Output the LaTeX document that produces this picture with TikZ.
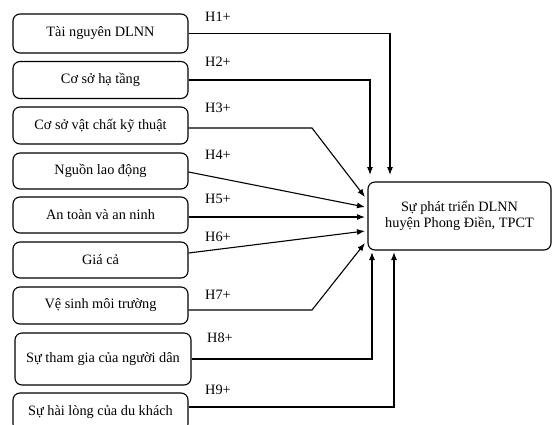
\documentclass[tikz,border=0pt]{standalone}
\usepackage{fontspec}
\setmainfont{Liberation Serif}
\usetikzlibrary{arrows.meta}

\tikzset{
  factor/.style={draw, line width=1.1pt, rounded corners=7pt, minimum width=175pt,
    align=center, font=\fontsize{14.3}{16}\selectfont},
  hyp/.style={font=\fontsize{14.3}{16}\selectfont},
  link/.style={line width=1.1pt, -{Latex[length=8pt,width=6pt]}}
}

\begin{document}
\begin{tikzpicture}[x=1pt,y=-1pt]
  \useasboundingbox (0,0) rectangle (552,424);

  % factors on the left
  \node[factor, minimum height=39pt] (f1) at (100.5,33.5) {Tài nguyên DLNN};
  \node[factor, minimum height=37pt] (f2) at (100.5,80) {Cơ sở hạ tầng};
  \node[factor, minimum height=37pt] (f3) at (100.5,125.5) {Cơ sở vật chất kỹ thuật};
  \node[factor, minimum height=36pt] (f4) at (100.5,171) {Nguồn lao động};
  \node[factor, minimum height=36pt] (f5) at (100.5,215) {An toàn và an ninh};
  \node[factor, minimum height=36pt] (f6) at (100.5,260) {Giá cả};
  \node[factor, minimum height=37pt] (f7) at (100.5,305.5) {Vệ sinh môi trường};
  \node[factor, minimum height=52pt, minimum width=176pt] (f8) at (103,359) {Sự tham gia của người dân};
  \node[factor, minimum height=38pt] (f9) at (100.5,412) {Sự hài lòng của du khách};

  % outcome
  \node[factor, minimum width=183pt, minimum height=68pt] (dev) at (459.5,216)
    {Sự phát triển DLNN\\huyện Phong Điền, TPCT};

  % end points round the outcome box
  \coordinate (t1) at (390,175);
  \coordinate (t2) at (370,175);
  \coordinate (l3) at (365,197);
  \coordinate (l4) at (365,207);
  \coordinate (l5) at (365,217);
  \coordinate (l6) at (365,231);
  \coordinate (l7) at (365,243);
  \coordinate (b8) at (372,252);
  \coordinate (b9) at (394,252);
  \coordinate (k3) at (312,128);
  \coordinate (k7) at (312,310);

  \draw[link] (f1.east) -| (t1);
  \draw[link] (f2.east) -| (t2);
  \draw[link] ([yshift=-2.5pt]f3.east) -- (k3) -- (l3);
  \draw[link] ([yshift=-1pt]f4.east) -- (l4);
  \draw[link] ([yshift=-2pt]f5.east) -- (l5);
  \draw[link] ([yshift=7pt]f6.east) -- (l6);
  \draw[link] ([yshift=-4.5pt]f7.east) -- (k7) -- (l7);
  \draw[link] (f8.east) -| (b8);
  \draw[link] ([yshift=5pt]f9.east) -| (b9);

  % hypothesis labels
  \node[hyp] (h1) at (218,17) {H1+};
  \node[hyp] (h2) at (218,62) {H2+};
  \node[hyp] (h3) at (218,108) {H3+};
  \node[hyp] (h4) at (218,155) {H4+};
  \node[hyp] (h5) at (218,199) {H5+};
  \node[hyp] (h6) at (218,237) {H6+};
  \node[hyp] (h7) at (218,295) {H7+};
  \node[hyp] (h8) at (220,338) {H8+};
  \node[hyp] (h9) at (218,390) {H9+};
\end{tikzpicture}
\end{document}
